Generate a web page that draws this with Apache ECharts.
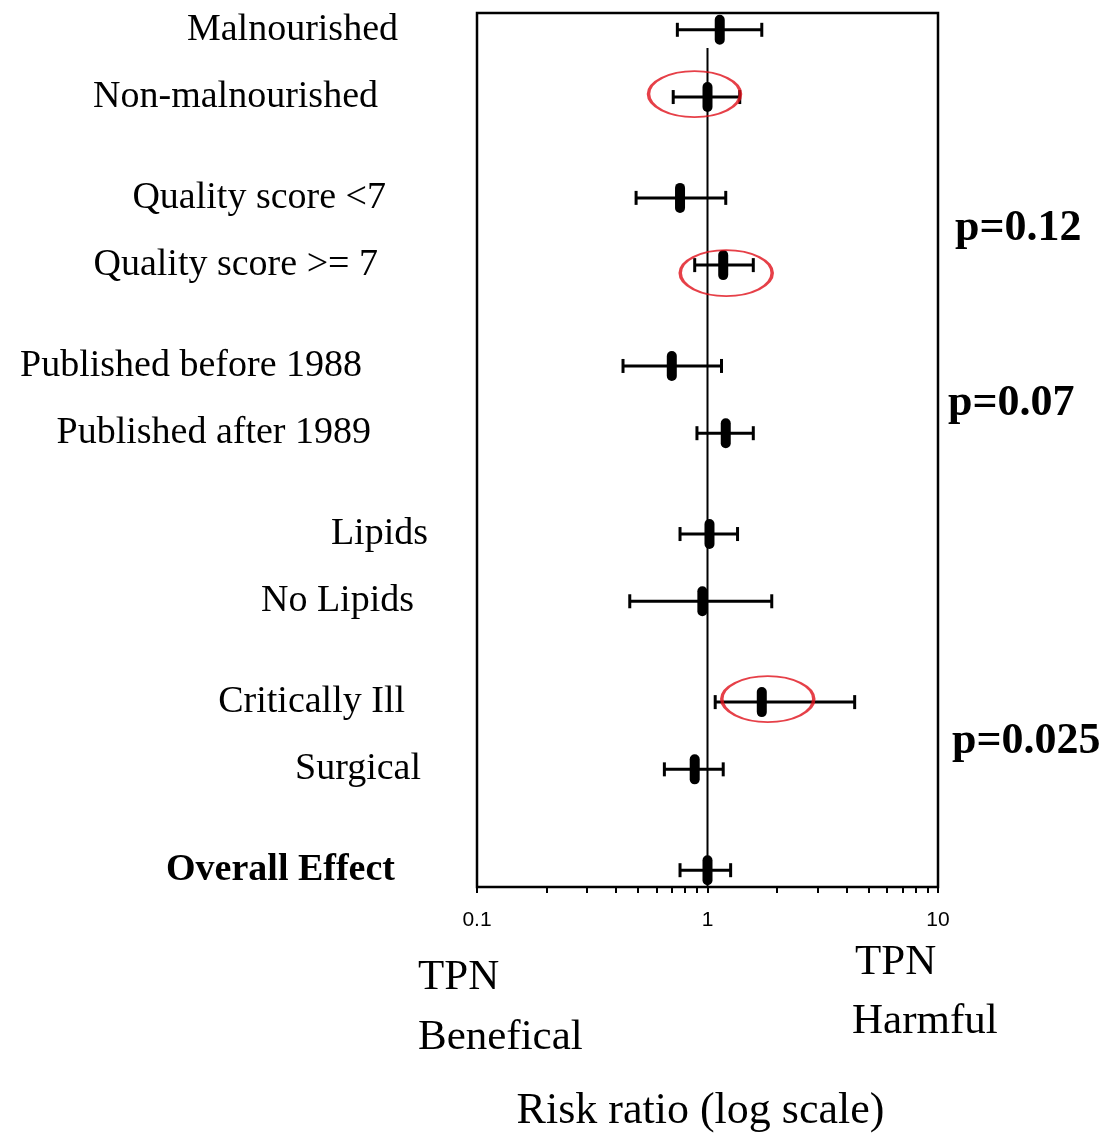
<!DOCTYPE html>
<html>
<head>
<meta charset="utf-8">
<script src="https://cdn.jsdelivr.net/npm/echarts@6/dist/echarts.min.js"></script>
<style>
  html, body { margin: 0; padding: 0; background: #fff; }
  #main { width: 1115px; height: 1138px; }
</style>
</head>
<body>
<div id="main"></div>
<script>
// subgroup rows, top to bottom
const labels = ['Malnourished', 'Non-malnourished', 'Quality score <7', 'Quality score >= 7',
  'Published before 1988', 'Published after 1989', 'Lipids', 'No Lipids',
  'Critically Ill', 'Surgical', 'Overall Effect']
const estimate = [1.13, 1.00, 0.76, 1.17, 0.70, 1.20, 1.02, 0.95, 1.72, 0.88, 1.00]
const lower = [0.74, 0.71, 0.49, 0.88, 0.43, 0.90, 0.76, 0.46, 1.08, 0.65, 0.76]
const upper = [1.72, 1.38, 1.20, 1.58, 1.15, 1.58, 1.35, 1.90, 4.35, 1.17, 1.26]
// rows circled in red on the original
const circled = ['Non-malnourished', 'Quality score >= 7', 'Critically Ill']
const pValues = ['p=0.12', 'p=0.07', 'p=0.025']
const xTickLabels = [0.1, 1, 10]
const xMinorTicks = [0.1, 0.2, 0.3, 0.4, 0.5, 0.6, 0.7, 0.8, 0.9, 1, 2, 3, 4, 5, 6, 7, 8, 9, 10]

// layout: pairs of rows share a group, groups are a bit further apart
const rowSlot = [0, 2, 5, 7, 10, 12, 15, 17, 20, 22, 25]
const slotCount = 26
const labelRight = [398, 378, 386, 378, 362, 371, 428, 414, 405, 421, 395]
const circleOffset = [[-13, -3], [3, 8], [6, -3]]

const serif = '"Liberation Serif", "DejaVu Serif", serif'

let categories = []
for (let i = 0; i < slotCount; i++) categories.push('s' + i)
let rowBySlot = {}
rowSlot.forEach((s, i) => { rowBySlot[s] = i })

let rich = {}
labels.forEach((l, i) => {
  rich['r' + i] = {
    fontFamily: serif,
    fontSize: 38,
    color: '#000',
    fontWeight: i === labels.length - 1 ? 'bold' : 'normal',
    padding: [0, 428 - labelRight[i], 0, 0]
  }
})

let rows = labels.map((l, i) => [estimate[i], rowSlot[i], lower[i], upper[i]])

let circles = circled.map((name, k) => {
  let i = labels.indexOf(name)
  return { value: [estimate[i], rowSlot[i]], symbolOffset: circleOffset[k] }
})

function renderRow (params, api) {
  let y = api.value(1)
  let pE = api.coord([api.value(0), y])
  let pL = api.coord([api.value(2), y])
  let pH = api.coord([api.value(3), y])
  let st = { stroke: '#000', lineWidth: 3 }
  return {
    type: 'group',
    children: [
      { type: 'line', shape: { x1: pL[0], y1: pL[1], x2: pH[0], y2: pH[1] }, style: st },
      { type: 'line', shape: { x1: pL[0], y1: pL[1] - 7, x2: pL[0], y2: pL[1] + 7 }, style: st },
      { type: 'line', shape: { x1: pH[0], y1: pH[1] - 7, x2: pH[0], y2: pH[1] + 7 }, style: st },
      { type: 'rect', shape: { x: pE[0] - 5, y: pE[1] - 15, width: 10, height: 30, r: 5 }, style: { fill: '#000' } }
    ]
  }
}

function renderRef (params, api) {
  let p = api.coord([api.value(0), 0])
  let cs = params.coordSys
  return {
    type: 'line',
    shape: { x1: p[0], y1: cs.y + 35, x2: p[0], y2: cs.y + cs.height },
    style: { stroke: '#000', lineWidth: 2 }
  }
}

let pY = [232, 407, 745]
let pX = [955, 948, 952]

let option = {
  backgroundColor: '#fff',
  animation: false,
  grid: { left: 477, right: 177, top: 13, bottom: 248, show: true, borderColor: '#000', borderWidth: 2.5 },
  xAxis: {
    type: 'log',
    logBase: 10,
    min: 0.1,
    max: 10,
    splitLine: { show: false },
    axisLine: { lineStyle: { color: '#000', width: 2.5 } },
    axisTick: { show: true, customValues: xMinorTicks, length: 6, lineStyle: { color: '#000', width: 2 } },
    minorTick: { show: false },
    axisLabel: {
      customValues: xTickLabels,
      formatter: v => String(v),
      fontFamily: '"Liberation Sans", Arial, sans-serif',
      fontSize: 21,
      color: '#000',
      margin: 23
    },
    name: 'Risk ratio (log scale)',
    nameLocation: 'middle',
    nameGap: 202,
    nameTextStyle: { fontFamily: serif, fontSize: 44, color: '#000', verticalAlign: 'top', padding: [0, 14, 0, 0] }
  },
  yAxis: {
    type: 'category',
    inverse: true,
    data: categories,
    axisLine: { show: false },
    axisTick: { show: false },
    splitLine: { show: false },
    axisLabel: {
      interval: 0,
      margin: 49,
      formatter: (v, idx) => {
        let r = rowBySlot[idx]
        return r === undefined ? '' : '{r' + r + '|' + labels[r] + '}'
      },
      rich: rich
    }
  },
  series: [
    {
      type: 'custom',
      renderItem: renderRef,
      data: [[1, 0]],
      encode: { x: 0, y: 1 },
      silent: true,
      z: 1
    },
    {
      type: 'custom',
      renderItem: renderRow,
      data: rows,
      encode: { x: [0, 2, 3], y: 1 },
      silent: true,
      z: 2
    },
    {
      type: 'scatter',
      data: circles,
      symbol: 'circle',
      symbolSize: [92, 46],
      itemStyle: { color: 'rgba(0,0,0,0)', borderColor: '#e0101a', borderWidth: 2.5 },
      silent: true,
      z: 3
    }
  ],
  graphic: pValues.map((t, i) => ({
    type: 'text',
    left: pX[i],
    top: pY[i] - 25,
    style: { text: t, font: 'bold 44px ' + serif, fill: '#000' }
  })).concat([
    { type: 'text', left: 418, top: 956, style: { text: 'TPN', font: '43px ' + serif, fill: '#000' } },
    { type: 'text', left: 418, top: 1016, style: { text: 'Benefical', font: '43px ' + serif, fill: '#000' } },
    { type: 'text', left: 855, top: 941, style: { text: 'TPN', font: '43px ' + serif, fill: '#000' } },
    { type: 'text', left: 852, top: 1000, style: { text: 'Harmful', font: '43px ' + serif, fill: '#000' } }
  ])
}

let myChart = echarts.init(document.getElementById('main'))
myChart.setOption(option)
</script>
</body>
</html>
